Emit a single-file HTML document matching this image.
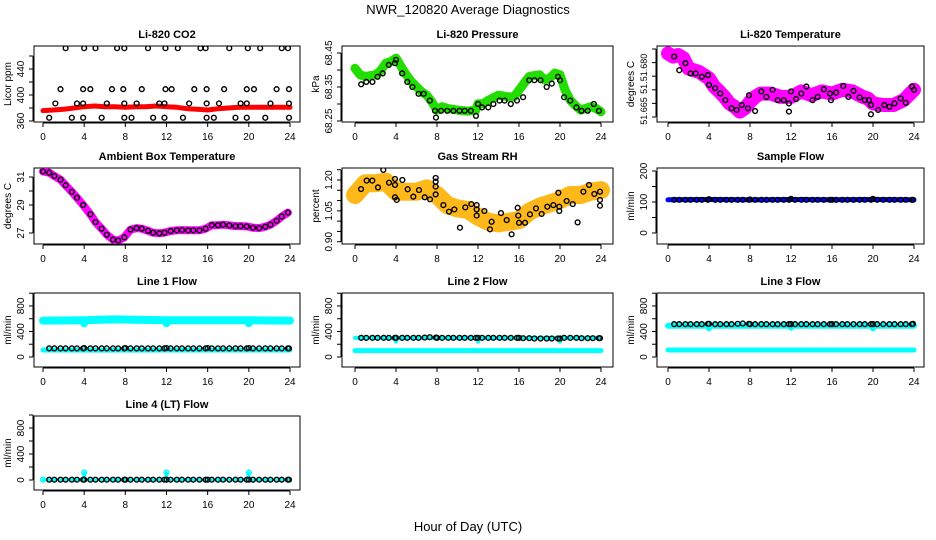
<!DOCTYPE html>
<html><head><meta charset="utf-8"><style>
html,body{margin:0;padding:0;background:#fff;}
svg{display:block;font-family:"Liberation Sans",sans-serif;}
</style></head><body>
<svg id="c" width="936" height="540" xmlns="http://www.w3.org/2000/svg">
<text x="468" y="14" text-anchor="middle" font-size="13">NWR_120820  Average Diagnostics</text>
<text x="468" y="531" text-anchor="middle" font-size="13">Hour of Day (UTC)</text>
</svg>
<script>
const HRS=[0.6,1.1,1.7,2.2,2.8,3.3,3.9,4.0,4.6,5.1,5.7,6.2,6.8,7.3,7.9,8.0,8.5,9.1,9.6,10.2,10.7,11.3,11.8,12.0,12.4,13.0,13.5,14.1,14.6,15.2,15.8,16.0,16.4,17.0,17.5,18.1,18.7,19.2,19.8,20.0,20.4,21.0,21.6,22.1,22.7,23.2,23.8,23.9];
const X_TICKS=[0,4,8,12,16,20,24];
// CO2
const CO2_BAND_H=[0,1,2,3,4,5,6,7,8,9,10,11,12,13,14,15,16,17,18,19,20,21,22,23,24];
const CO2_BAND_V=[376,377,378,380,382,383,382,382,381,382,382,383,382,381,379,378,377,379,380,381,381,381,381,381,381];
const CO2_HI_H=[2.2,4.0,5.1,7.2,7.9,10.2,11.9,13.1,15.3,15.8,18.1,19.9,21.1,23.2,23.8];
const CO2_HI_V=[472,472,472,472,472,472,472,472,472,472,472,472,472,472,472];
const CO2_MID_H=[1.7,3.9,4.6,6.7,7.8,9.6,11.9,12.5,14.7,15.9,17.6,19.8,20.5,22.7,23.9];
const CO2_MID_V=[409,409,409,409,409,409,409,409,409,409,409,409,409,409,409];
const CO2_LOW_H=[1.2,3.3,3.9,6.2,7.9,9.1,11.3,11.8,14.2,15.9,17.1,19.2,19.8,22.1,23.9];
const CO2_LOW_V=[387,387,387,387,387,387,387,387,387,387,387,387,387,387,387];
const CO2_BOT_H=[0.6,2.8,3.9,5.7,7.9,8.6,10.7,11.8,13.6,15.9,16.6,18.7,19.8,21.6,23.9];
const CO2_BOT_V=[365,365,365,365,365,365,365,365,365,365,365,365,365,365,365];
// Pressure
const P_BAND_H=[0,0.5,1,2,2.5,3,3.5,4,4.5,5,5.5,6,6.5,7,7.5,8,8.5,9,10,11,11.8,12,12.5,13,14,15,15.5,16,16.5,17,18,18.5,19,19.5,20,20.5,21,21.5,22,22.5,23,23.5,24];
const P_BAND_V=[68.405,68.386,68.381,68.386,68.398,68.420,68.425,68.435,68.410,68.386,68.366,68.351,68.336,68.326,68.306,68.282,68.292,68.287,68.282,68.279,68.282,68.301,68.301,68.311,68.326,68.321,68.321,68.341,68.361,68.381,68.386,68.371,68.376,68.391,68.386,68.341,68.311,68.296,68.282,68.287,68.292,68.287,68.277];
const P_PTS_H=[0.6,1.1,1.7,2.2,2.7,3.3,3.9,4.0,4.6,5.1,5.6,6.2,6.7,7.3,7.8,7.9,8.4,9.0,9.6,10.2,10.7,11.3,11.8,12.0,12.4,13.0,13.5,14.1,14.6,15.2,15.8,16.4,17.0,17.5,18.1,18.7,19.2,19.8,20.0,20.4,21.0,21.6,22.1,22.7,23.3,23.8];
const P_PTS_V=[68.358,68.365,68.365,68.38,68.39,68.415,68.42,68.43,68.39,68.365,68.35,68.33,68.33,68.31,68.28,68.26,68.28,68.28,68.28,68.28,68.28,68.28,68.265,68.30,68.29,68.29,68.30,68.31,68.31,68.30,68.31,68.32,68.37,68.37,68.37,68.35,68.36,68.38,68.37,68.32,68.31,68.29,68.28,68.28,68.30,68.28];
// Li-820 temperature
const T_BAND_H=[0,0.5,1,1.5,2,3,3.5,4,4.5,5,5.5,6,6.5,7,7.5,8,8.5,9,10,11,12,13,14,15,16,17,18,19,19.5,20,21,22,23,24];
const T_BAND_V=[51.6767,51.6761,51.6764,51.6758,51.6739,51.6733,51.6727,51.6721,51.6706,51.6697,51.6687,51.6675,51.6669,51.6660,51.6666,51.6678,51.6687,51.6693,51.6693,51.6687,51.6687,51.6697,51.6690,51.6697,51.6693,51.6700,51.6697,51.6687,51.6684,51.6675,51.6672,51.6672,51.6681,51.6700];
const T_PTS_H=[0.6,1.1,1.7,2.2,2.7,3.3,3.9,4.0,4.6,5.1,5.6,6.2,6.7,7.2,7.8,7.9,8.5,9.1,9.6,10.2,10.7,11.3,11.8,11.8,12.0,12.5,13.0,13.5,14.1,14.6,15.2,15.8,15.9,16.4,17.1,17.6,18.1,18.7,19.2,19.6,19.8,19.8,20.5,21.1,21.6,22.1,22.7,23.2,23.8,24.0];
const T_PTS_V=[51.6761,51.6736,51.6749,51.6730,51.6730,51.6724,51.6727,51.6709,51.6703,51.6693,51.6681,51.6666,51.6663,51.6672,51.6666,51.6690,51.6661,51.6697,51.6687,51.6700,51.6681,51.6681,51.6660,51.6675,51.6697,51.6683,51.6693,51.6706,51.6681,51.6687,51.6701,51.6693,51.6681,51.6695,51.6707,51.6687,51.6698,51.6686,51.6681,51.6681,51.6672,51.6655,51.6663,51.6672,51.6669,51.6675,51.6684,51.6676,51.6706,51.6700];
// Ambient box temperature
const A_H=[0,0.6,1.1,1.7,2.2,2.8,3.3,3.9,4.6,5.1,5.7,6.2,6.8,7.3,7.9,8.5,9.1,9.6,10.2,10.7,11.3,11.8,12.4,13.0,13.5,14.1,14.6,15.2,15.8,16.4,17.0,17.5,18.1,18.7,19.2,19.8,20.4,21.0,21.6,22.1,22.7,23.2,23.8];
const A_V=[31.40,31.31,31.07,30.81,30.41,29.94,29.52,29.00,28.34,27.78,27.31,26.88,26.53,26.46,26.69,27.24,27.35,27.31,27.16,27.02,26.98,27.02,27.14,27.19,27.21,27.19,27.19,27.19,27.31,27.56,27.56,27.59,27.54,27.49,27.49,27.47,27.38,27.35,27.45,27.59,27.87,28.18,28.46];
// RH
const RH_BAND_H=[0,1,2,3,4,5,6,7,8,9,10,11,12,13,14,15,16,17,18,19,20,21,22,23,24];
const RH_BAND_V=[1.127,1.184,1.184,1.192,1.143,1.143,1.143,1.159,1.127,1.078,1.062,1.054,1.022,0.997,0.989,0.997,1.005,1.046,1.070,1.086,1.103,1.127,1.127,1.143,1.151];
const RH_PTS_H=[0.59,1.14,1.69,2.24,2.76,3.32,3.90,3.90,3.90,4.07,4.62,5.14,5.69,6.24,6.80,7.32,7.87,7.87,7.87,7.87,8.62,9.17,9.69,10.24,10.76,11.35,11.87,11.87,11.87,12.62,13.17,13.33,14.24,14.80,15.28,15.87,15.93,16.0,16.59,17.07,17.66,18.21,18.76,19.35,19.84,19.93,19.93,20.65,21.24,21.72,22.28,22.83,23.35,23.90,23.90,23.90];
const RH_PTS_V=[1.156,1.197,1.197,1.164,1.249,1.187,1.205,1.176,1.116,1.103,1.200,1.155,1.119,1.151,1.116,1.106,1.210,1.192,1.168,1.130,1.078,1.046,1.057,0.968,1.067,1.083,1.078,1.057,1.027,1.049,0.960,0.997,1.039,1.005,0.936,1.065,1.027,0.992,0.992,1.033,1.062,1.035,1.070,1.078,1.138,1.070,1.049,1.098,1.083,0.994,1.143,1.176,1.132,1.143,1.103,1.075];
// Flows
const SF_BAND_H=[0,4,8,12,16,20,24];
const SF_BAND_V=[107,108,107,108,107,108,107];
const SF_PTS_V=[107,107,107,107,107,107,107,109,107,107,107,107,107,107,107,108,107,107,107,107,107,107,107,110,107,107,107,107,107,107,107,107,107,107,107,107,107,107,107,110,107,107,107,107,107,107,107,107];
const L1_UP_H=[0,3.9,4.0,4.1,6.8,11.9,12.0,12.1,19.9,20.0,20.1,24];
const L1_UP_V=[570,575,530,575,590,575,530,575,575,530,575,570];
const L1_LO_H=[0,6,12,18,24];
const L1_LO_V=[110,108,110,110,110];
const L1_PTS_V=[135,135,135,135,135,135,135,140,135,135,135,135,135,135,135,140,135,135,135,135,135,135,135,140,135,135,135,135,135,135,135,140,135,135,135,135,135,135,135,140,135,135,135,135,135,135,135,135];
const L2_UP_H=[0,3.9,4.0,4.1,11.9,12.0,12.1,19.9,20.0,20.1,24];
const L2_UP_V=[300,300,240,300,300,240,300,300,240,300,300];
const L2_LO_H=[0,6,12,18,24];
const L2_LO_V=[100,100,100,100,100];
const L2_PTS_V=[300,300,300,300,300,300,300,300,300,300,300,300,305,310,305,300,300,300,300,300,300,300,300,300,300,300,300,300,300,300,300,300,295,295,290,290,290,290,290,290,300,300,300,295,295,295,295,295];
const L3_UP_H=[0,3.9,4.0,4.1,11.9,12.0,12.1,19.9,20.0,20.1,24];
const L3_UP_V=[490,490,450,490,490,460,490,490,450,490,490];
const L3_LO_H=[0,6,12,18,24];
const L3_LO_V=[110,110,110,110,110];
const L3_PTS_V=[515,515,515,515,515,515,520,520,515,515,515,515,520,525,520,515,515,515,515,515,515,515,515,515,515,515,515,515,515,515,515,515,515,515,515,515,515,515,515,515,515,515,515,515,515,515,515,520];
const L4_BAND_H=[0,3.95,4.0,4.05,11.95,12.0,12.05,19.95,20.0,20.05,24];
const L4_BAND_V=[5,5,110,5,5,110,5,5,110,5,5];
const L4_PTS_V=[5,5,5,5,5,5,5,5,5,5,5,5,5,5,5,5,5,5,5,5,5,5,5,5,5,5,5,5,5,5,5,5,5,5,5,5,5,5,5,5,5,5,5,5,5,5,5,5];

const NS='http://www.w3.org/2000/svg';
const svg=document.getElementById('c');
function mk(tag,attrs,parent){const e=document.createElementNS(NS,tag);for(const k in attrs)e.setAttribute(k,attrs[k]);(parent||svg).appendChild(e);return e;}

function panel(o){
  const g=mk('g',{});
  
  
  const xs=h=>o.x0+h*(o.x24-o.x0)/24;
  const ys=v=>o.yRef-(v-o.vRef)*o.k;
  const clipId='clip-'+o.name;
  const cp=mk('clipPath',{id:clipId},g);
  mk('rect',{x:o.l,y:o.t,width:o.r-o.l,height:o.b-o.t},cp);
  const box=mk('rect',{x:o.l,y:o.t,width:o.r-o.l,height:o.b-o.t,fill:'none',stroke:'#000','stroke-width':1},g);
  
  
  const tt=mk('text',{x:(o.l+o.r)/2,y:o.t-8,'text-anchor':'middle','font-size':11,'font-weight':'bold'},g);
  tt.textContent=o.title;
  
  
  mk('line',{x1:xs(0),x2:xs(24),y1:o.b+1,y2:o.b+1,stroke:'#000'},g);
  X_TICKS.forEach(h=>{
    mk('line',{x1:xs(h),x2:xs(h),y1:o.b+1,y2:o.b+5,stroke:'#000'},g);
    const t=mk('text',{x:xs(h),y:o.b+18,'text-anchor':'middle','font-size':10},g);t.textContent=h;
    
    
  });
  const yt=o.ticks;
  mk('line',{x1:o.l-1,x2:o.l-1,y1:ys(yt[0]),y2:ys(yt[yt.length-1]),stroke:'#000'},g);
  yt.forEach(v=>mk('line',{x1:o.l-5,x2:o.l-1,y1:ys(v),y2:ys(v),stroke:'#000'},g));
  o.labels.forEach((s,i)=>{
    const v=o.labelVals[i];
    const t=mk('text',{x:0,y:0,'text-anchor':'middle','font-size':o.lfs||10,transform:`translate(${o.l-10},${ys(v)}) rotate(-90)`},g);
    t.textContent=s;
    
    
  });
  const yl=mk('text',{x:0,y:0,'text-anchor':'middle','font-size':10,transform:`translate(${o.l-23},${(o.t+o.b)/2}) rotate(-90)`},g);
  yl.textContent=o.ylab;
  
  
  const pg=mk('g',{'clip-path':`url(#${clipId})`},g);
  (o.bands||[]).forEach(bd=>{
    const pts=bd.h.map((h,i)=>xs(h).toFixed(1)+','+ys(bd.v[i]).toFixed(1)).join(' ');
    const pl=mk('polyline',{points:pts,fill:'none',stroke:bd.color,'stroke-width':bd.w,'stroke-linejoin':'round','stroke-linecap':'round','stroke-opacity':bd.op||1},pg);
    
    
  });
  (o.pts||[]).forEach(ps=>{
    ps.h.forEach((h,i)=>{
      const c=mk('circle',{cx:xs(h),cy:ys(ps.v[i]),r:ps.r||2.4,fill:'none',stroke:ps.color||'#000','stroke-width':1.4},pg);
      
      
    });
  });
}
const L={l:34,r:300,x0:43,x24:290}, M={l:342,r:613,x0:355,x24:601}, R={l:657,r:924,x0:668,x24:914};
const R1={t:46,b:122},R2={t:168,b:244},R3={t:293,b:367},R4={t:416,b:490};

panel(Object.assign({},L,R1,{name:'co2',title:'Li-820 CO2',ylab:'Licor ppm',vRef:360,yRef:121,k:0.65,
  ticks:[360,380,400,420,440,460],labels:['360','400','440'],labelVals:[360,400,440],
  bands:[{h:CO2_BAND_H,v:CO2_BAND_V,color:'#ff0000',w:5}],
  pts:[{h:CO2_HI_H,v:CO2_HI_V},{h:CO2_MID_H,v:CO2_MID_V},{h:CO2_LOW_H,v:CO2_LOW_V},{h:CO2_BOT_H,v:CO2_BOT_V}]}));
panel(Object.assign({},M,R1,{name:'pressure',title:'Li-820 Pressure',ylab:'kPa',vRef:68.25,yRef:121,k:340,
  ticks:[68.25,68.30,68.35,68.40,68.45],labels:['68.25','68.35','68.45'],labelVals:[68.25,68.35,68.45],
  bands:[{h:P_BAND_H,v:P_BAND_V,color:'#22dd00',w:9}],pts:[{h:P_PTS_H,v:P_PTS_V}]}));
panel(Object.assign({},R,R1,{name:'li820-temperature',title:'Li-820 Temperature',ylab:'degrees C',vRef:51.665,yRef:117,k:5440,lfs:9,
  ticks:[51.665,51.6675,51.67,51.6725,51.675,51.6775],labels:['51.665','51.','51.680'],labelVals:[51.6661,51.6704,51.6741],
  bands:[{h:T_BAND_H,v:T_BAND_V,color:'#ff00ff',w:14}],pts:[{h:T_PTS_H,v:T_PTS_V}]}));
panel(Object.assign({},L,R2,{name:'ambient-temperature',title:'Ambient Box Temperature',ylab:'degrees C',vRef:31,yRef:177,k:14,
  ticks:[27,28,29,30,31],labels:['27','29','31'],labelVals:[27,29,31],
  bands:[{h:A_H,v:A_V,color:'#ff00ff',w:8}],pts:[{h:A_H,v:A_V}]}));
panel(Object.assign({},M,R2,{name:'gas-stream-rh',title:'Gas Stream RH',ylab:'percent',vRef:1.2,yRef:180,k:205.7,
  ticks:[0.90,0.95,1.00,1.05,1.10,1.15,1.20,1.25],labels:['0.90','1.05','1.20'],labelVals:[0.9,1.05,1.2],
  bands:[{h:RH_BAND_H,v:RH_BAND_V,color:'#ffb000',w:18,op:0.9}],pts:[{h:RH_PTS_H,v:RH_PTS_V}]}));
panel(Object.assign({},R,R2,{name:'sample-flow',title:'Sample Flow',ylab:'ml/min',vRef:0,yRef:233,k:0.31,
  ticks:[0,50,100,150,200],labels:['0','100','200'],labelVals:[0,100,200],
  bands:[{h:SF_BAND_H,v:SF_BAND_V,color:'#0000ff',w:5}],pts:[{h:HRS,v:SF_PTS_V}]}));
const FT=[0,200,400,600,800,1000];
panel(Object.assign({},L,R3,{name:'line1-flow',title:'Line 1 Flow',ylab:'ml/min',vRef:0,yRef:357,k:0.0638,
  ticks:FT,labels:['0','400','800'],labelVals:[0,400,800],
  bands:[{h:L1_UP_H,v:L1_UP_V,color:'#00ffff',w:8},{h:L1_LO_H,v:L1_LO_V,color:'#00ffff',w:5}],pts:[{h:HRS,v:L1_PTS_V}]}));
panel(Object.assign({},M,R3,{name:'line2-flow',title:'Line 2 Flow',ylab:'ml/min',vRef:0,yRef:357,k:0.0638,
  ticks:FT,labels:['0','400','800'],labelVals:[0,400,800],
  bands:[{h:L2_UP_H,v:L2_UP_V,color:'#00ffff',w:4},{h:L2_LO_H,v:L2_LO_V,color:'#00ffff',w:5}],pts:[{h:HRS,v:L2_PTS_V}]}));
panel(Object.assign({},R,R3,{name:'line3-flow',title:'Line 3 Flow',ylab:'ml/min',vRef:0,yRef:357,k:0.0638,
  ticks:FT,labels:['0','400','800'],labelVals:[0,400,800],
  bands:[{h:L3_UP_H,v:L3_UP_V,color:'#00ffff',w:6},{h:L3_LO_H,v:L3_LO_V,color:'#00ffff',w:5}],pts:[{h:HRS,v:L3_PTS_V}]}));
panel(Object.assign({},L,R4,{name:'line4-flow',title:'Line 4 (LT) Flow',ylab:'ml/min',vRef:0,yRef:480,k:0.065,
  ticks:FT,labels:['0','400','800'],labelVals:[0,400,800],
  bands:[{h:L4_BAND_H,v:L4_BAND_V,color:'#00ffff',w:3}],pts:[{h:HRS,v:L4_PTS_V},{h:[0,4,12,20],v:[5,115,115,115],color:'#00ffff'}]}));
</script>
</body></html>
